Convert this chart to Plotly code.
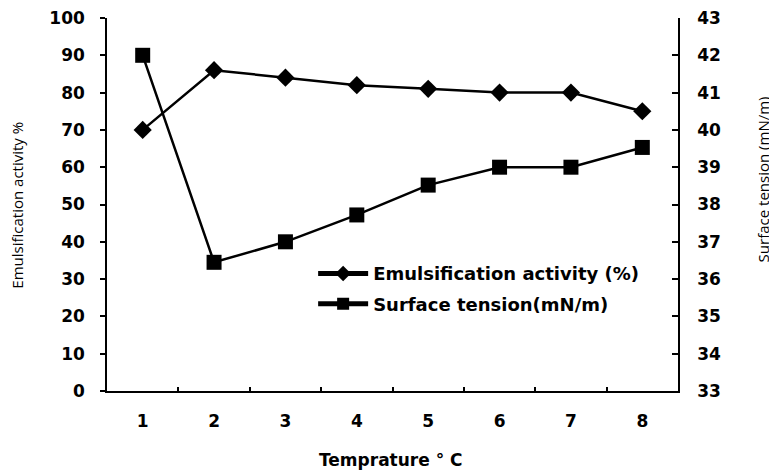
import plotly.graph_objects as go

temperature = ["1", "2", "3", "4", "5", "6", "7", "8"]
emulsification = [70, 86, 84, 82, 81, 80, 80, 75]
surface_tension = [42.0, 36.45, 37.0, 37.72, 38.52, 39.0, 39.0, 39.53]

left_ticks = list(range(0, 101, 10))
right_ticks = list(range(33, 44, 1))

tick_font = dict(family="DejaVu Sans", size=17, color="black", weight="bold")

fig = go.Figure()
fig.add_trace(go.Scatter(
    x=temperature, y=emulsification, name="Emulsification activity (%)",
    mode="lines+markers", line=dict(color="black", width=2.5),
    marker=dict(symbol="diamond", size=14, color="black"),
    legendgroup="a", yaxis="y"))
fig.add_trace(go.Scatter(
    x=temperature, y=surface_tension, name="Surface tension(mN/m)",
    mode="lines+markers", line=dict(color="black", width=2.5),
    marker=dict(symbol="square", size=15, color="black"),
    legendgroup="b", yaxis="y2"))

# page body adds an 8px offset; size the figure so it fits the 777x470 window
fig.update_layout(
    width=769, height=462,
    margin=dict(l=99, r=99, t=10, b=79),
    paper_bgcolor="white", plot_bgcolor="white",
    showlegend=True,
    legend=dict(x=0.361, y=0.364, xanchor="left", yanchor="top",
                font=dict(family="DejaVu Sans", size=18, color="black", weight="bold"),
                bgcolor="rgba(0,0,0,0)", itemwidth=50, itemsizing="constant",
                traceorder="grouped", tracegroupgap=4),
    xaxis=dict(type="category", tickson="boundaries", ticks="inside", ticklen=4,
               tickwidth=1.5, tickcolor="black", showline=True, linecolor="black",
               linewidth=1.5, showgrid=False, zeroline=False, tickfont=tick_font,
               ticklabelstandoff=14, range=[-0.5, 7.5], automargin=False),
    yaxis=dict(range=[0, 100], tickvals=left_ticks, ticks="outside", ticklen=5,
               tickwidth=1.5, tickcolor="black", showline=True, linecolor="black",
               linewidth=1.5, showgrid=False, zeroline=False, tickfont=tick_font,
               ticklabelstandoff=12, automargin=False, ticklabeloverflow="allow"),
    yaxis2=dict(range=[33, 43], tickvals=right_ticks, overlaying="y", side="right",
                anchor="x", ticks="inside", ticklen=6, tickwidth=1.5, tickcolor="black",
                showline=True, linecolor="black", linewidth=1.5, showgrid=False,
                zeroline=False, tickfont=tick_font, ticklabelstandoff=14,
                automargin=False, ticklabeloverflow="allow"),
)

fig.add_annotation(text="Temprature ° C", xref="paper", yref="paper", x=0.497, y=-0.185,
                   xanchor="center", yanchor="middle", showarrow=False,
                   font=dict(family="DejaVu Sans", size=17, color="black", weight="bold"))
fig.add_annotation(text="Emulsification activity %", xref="paper", yref="paper",
                   x=-0.158, y=0.499, xanchor="center", yanchor="middle", textangle=-90,
                   showarrow=False, font=dict(family="Open Sans", size=15, color="black"))
fig.add_annotation(text="Surface tension (mN/m)", xref="paper", yref="paper",
                   x=1.148, y=0.566, xanchor="center", yanchor="middle", textangle=-90,
                   showarrow=False, font=dict(family="Open Sans", size=15, color="black"))

fig.write_html("out.html")
